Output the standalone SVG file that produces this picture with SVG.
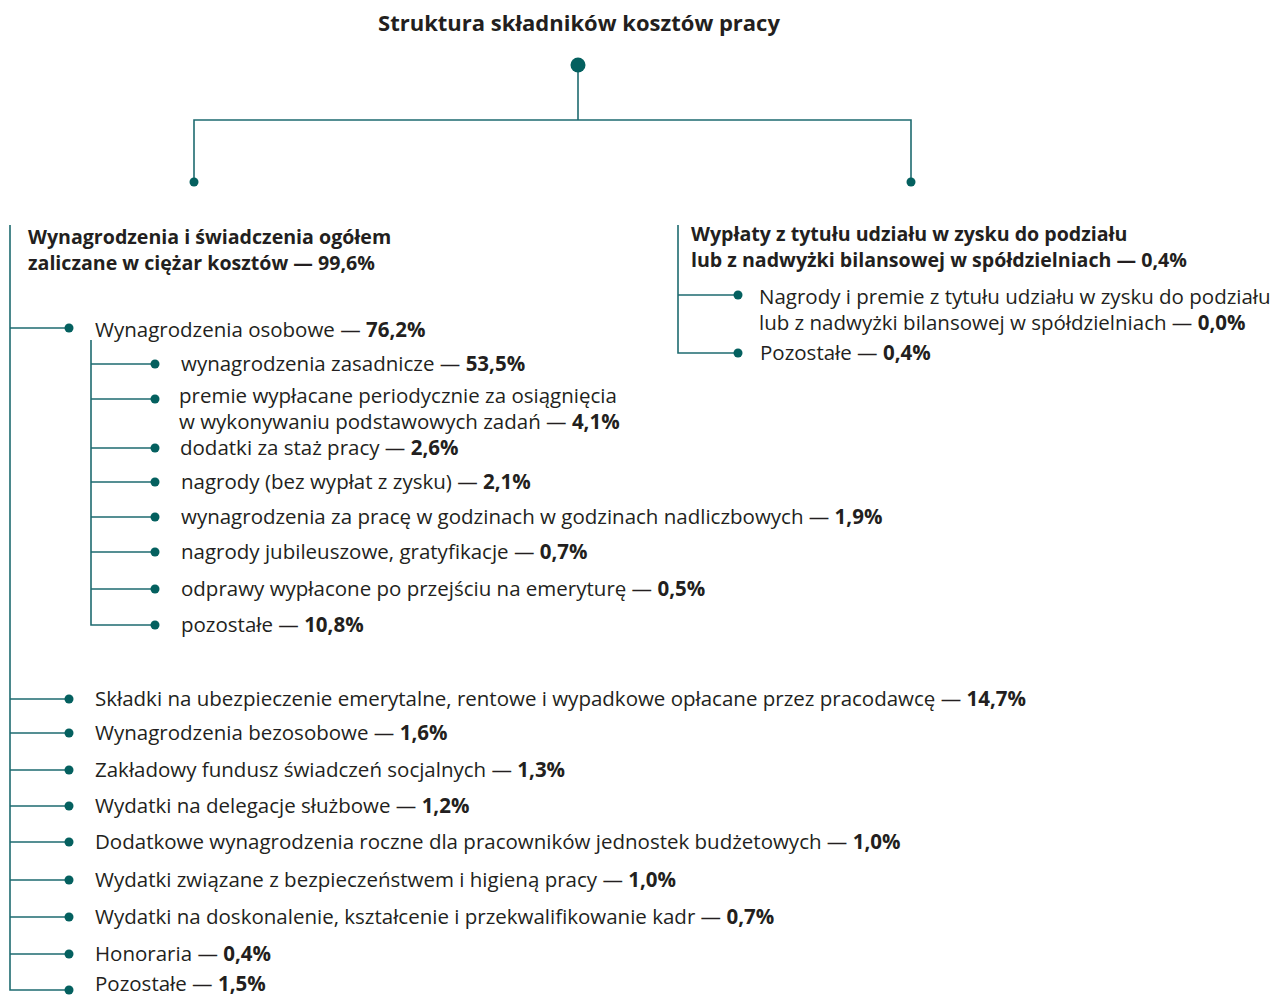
<svg xmlns="http://www.w3.org/2000/svg" width="1283" height="996" viewBox="0 0 1283 996">
<style>
  .ln{fill:none;stroke:#1e6b70;stroke-width:1.6}
  .dot{fill:#04605f}
  text{font-family:"Open Sans","Noto Sans",sans-serif;fill:#231f20;font-size:20.5px}
  .b{font-weight:700}
  .h{font-weight:700;font-size:19.6px}
  .t{font-weight:700;font-size:22px}
</style>
<rect width="1283" height="996" fill="#ffffff"/>
<g id="connectors">
  <path class="ln" d="M578 65V120M194 182V120H911V182"/>
  <path class="ln" d="M10 225V990H69"/>
  <path class="ln" d="M10 328H69M91 340V625H155"/>
  <path class="ln" d="M91 364H155M91 399H155M91 448H155M91 482H155M91 517H155M91 552H155M91 589H155"/>
  <path class="ln" d="M10 699H69M10 733H69M10 770H69M10 806H69M10 842H69M10 880H69M10 917H69M10 954H69"/>
  <path class="ln" d="M678 225V353H738M678 295H738"/>
</g>
<g id="root">
  <text class="t" x="579" y="31" text-anchor="middle">Struktura składników kosztów pracy</text>
  <circle class="dot" cx="578" cy="65" r="7.5"/>
</g>
<g id="left-head">
  <circle class="dot" cx="194" cy="182" r="4.5"/>
  <text class="h" x="28" y="244">Wynagrodzenia i świadczenia ogółem</text>
  <text class="h" x="28" y="270">zaliczane w ciężar kosztów — 99,6%</text>
</g>
<g id="right-head">
  <circle class="dot" cx="911" cy="182" r="4.5"/>
  <text class="h" x="691" y="241">Wypłaty z tytułu udziału w zysku do podziału</text>
  <text class="h" x="691" y="267">lub z nadwyżki bilansowej w spółdzielniach — 0,4%</text>
</g>
<g id="r1">
  <circle class="dot" cx="738" cy="295" r="4.5"/>
  <text x="759" y="304">Nagrody i premie z tytułu udziału w zysku do podziału</text>
  <text x="759" y="330">lub z nadwyżki bilansowej w spółdzielniach — <tspan class="b">0,0%</tspan></text>
</g>
<g id="r2">
  <circle class="dot" cx="738" cy="353" r="4.5"/>
  <text x="760" y="360">Pozostałe — <tspan class="b">0,4%</tspan></text>
</g>
<g id="osobowe">
  <circle class="dot" cx="69" cy="328" r="4.5"/>
  <text x="95" y="337">Wynagrodzenia osobowe — <tspan class="b">76,2%</tspan></text>
</g>
<g id="s1"><circle class="dot" cx="155" cy="364" r="4.5"/><text x="181" y="371">wynagrodzenia zasadnicze — <tspan class="b">53,5%</tspan></text></g>
<g id="s2"><circle class="dot" cx="155" cy="399" r="4.5"/><text x="179" y="403">premie wypłacane periodycznie za osiągnięcia</text><text x="179" y="429">w wykonywaniu podstawowych zadań — <tspan class="b">4,1%</tspan></text></g>
<g id="s3"><circle class="dot" cx="155" cy="448" r="4.5"/><text x="180" y="455">dodatki za staż pracy — <tspan class="b">2,6%</tspan></text></g>
<g id="s4"><circle class="dot" cx="155" cy="482" r="4.5"/><text x="181" y="489">nagrody (bez wypłat z zysku) — <tspan class="b">2,1%</tspan></text></g>
<g id="s5"><circle class="dot" cx="155" cy="517" r="4.5"/><text x="181" y="524">wynagrodzenia za pracę w godzinach w godzinach nadliczbowych — <tspan class="b">1,9%</tspan></text></g>
<g id="s6"><circle class="dot" cx="155" cy="552" r="4.5"/><text x="181" y="559">nagrody jubileuszowe, gratyfikacje — <tspan class="b">0,7%</tspan></text></g>
<g id="s7"><circle class="dot" cx="155" cy="589" r="4.5"/><text x="181" y="596">odprawy wypłacone po przejściu na emeryturę — <tspan class="b">0,5%</tspan></text></g>
<g id="s8"><circle class="dot" cx="155" cy="625" r="4.5"/><text x="181" y="632">pozostałe — <tspan class="b">10,8%</tspan></text></g>
<g id="m1"><circle class="dot" cx="69" cy="699" r="4.5"/><text x="95" y="706">Składki na ubezpieczenie emerytalne, rentowe i wypadkowe opłacane przez pracodawcę — <tspan class="b">14,7%</tspan></text></g>
<g id="m2"><circle class="dot" cx="69" cy="733" r="4.5"/><text x="95" y="740">Wynagrodzenia bezosobowe — <tspan class="b">1,6%</tspan></text></g>
<g id="m3"><circle class="dot" cx="69" cy="770" r="4.5"/><text x="95" y="777">Zakładowy fundusz świadczeń socjalnych — <tspan class="b">1,3%</tspan></text></g>
<g id="m4"><circle class="dot" cx="69" cy="806" r="4.5"/><text x="95" y="813">Wydatki na delegacje służbowe — <tspan class="b">1,2%</tspan></text></g>
<g id="m5"><circle class="dot" cx="69" cy="842" r="4.5"/><text x="95" y="849">Dodatkowe wynagrodzenia roczne dla pracowników jednostek budżetowych — <tspan class="b">1,0%</tspan></text></g>
<g id="m6"><circle class="dot" cx="69" cy="880" r="4.5"/><text x="95" y="887">Wydatki związane z bezpieczeństwem i higieną pracy — <tspan class="b">1,0%</tspan></text></g>
<g id="m7"><circle class="dot" cx="69" cy="917" r="4.5"/><text x="95" y="924">Wydatki na doskonalenie, kształcenie i przekwalifikowanie kadr — <tspan class="b">0,7%</tspan></text></g>
<g id="m8"><circle class="dot" cx="69" cy="954" r="4.5"/><text x="95" y="961">Honoraria — <tspan class="b">0,4%</tspan></text></g>
<g id="m9"><circle class="dot" cx="69" cy="990" r="4.5"/><text x="95" y="991">Pozostałe — <tspan class="b">1,5%</tspan></text></g>
</svg>
